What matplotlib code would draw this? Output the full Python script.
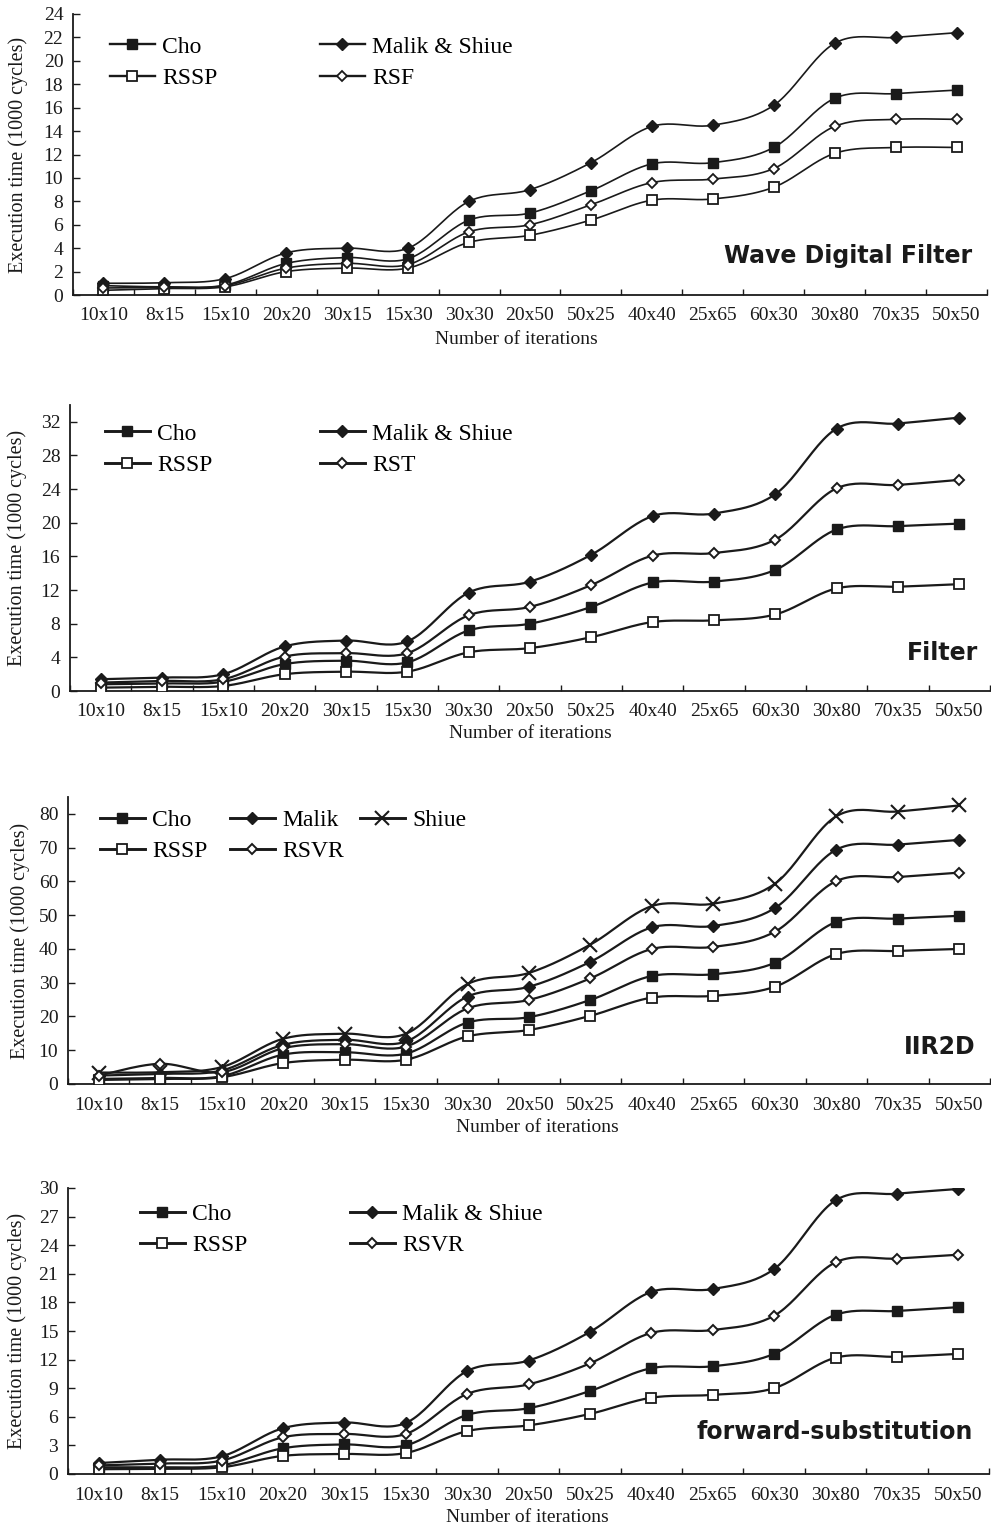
import numpy as np
import matplotlib
matplotlib.use("Agg")
import matplotlib.pyplot as plt
from matplotlib.lines import Line2D

# ---------------- data ----------------
categories = ["10x10", "8x15", "15x10", "20x20", "30x15", "15x30", "30x30", "20x50",
              "50x25", "40x40", "25x65", "60x30", "30x80", "70x35", "50x50"]

# Panel 1: Wave Digital Filter
wdf_cho = [0.8, 0.7, 0.85, 2.7, 3.2, 3.1, 6.4, 7.0, 8.9, 11.2, 11.3, 12.6, 16.8, 17.2, 17.5]
wdf_malik_shiue = [1.0, 1.05, 1.4, 3.6, 4.0, 4.0, 8.0, 9.0, 11.3, 14.4, 14.5, 16.2, 21.5, 22.0, 22.4]
wdf_rssp = [0.4, 0.55, 0.7, 2.0, 2.3, 2.3, 4.5, 5.1, 6.4, 8.1, 8.2, 9.2, 12.1, 12.6, 12.6]
wdf_rsf = [0.6, 0.65, 0.8, 2.3, 2.7, 2.6, 5.4, 6.0, 7.7, 9.6, 9.9, 10.8, 14.4, 15.0, 15.0]

# Panel 2: Filter
flt_cho = [0.8, 0.9, 1.1, 3.2, 3.6, 3.4, 7.2, 8.0, 10.0, 12.9, 13.0, 14.4, 19.2, 19.6, 19.9]
flt_malik_shiue = [1.4, 1.6, 2.0, 5.3, 6.0, 5.9, 11.7, 13.0, 16.2, 20.8, 21.1, 23.4, 31.2, 31.8, 32.5]
flt_rssp = [0.4, 0.5, 0.6, 2.0, 2.3, 2.3, 4.6, 5.1, 6.4, 8.2, 8.4, 9.1, 12.2, 12.4, 12.7]
flt_rst = [1.0, 1.2, 1.4, 4.1, 4.5, 4.5, 9.0, 10.0, 12.6, 16.1, 16.4, 18.0, 24.1, 24.5, 25.1]

# Panel 3: IIR2D
iir_cho = [1.5, 1.8, 2.3, 8.7, 9.4, 9.0, 18.2, 19.8, 24.9, 32.0, 32.5, 35.9, 48.0, 49.0, 49.8]
iir_malik = [2.5, 3.0, 4.0, 11.6, 13.1, 12.6, 25.9, 28.8, 36.2, 46.4, 46.8, 52.1, 69.4, 70.9, 72.3]
iir_shiue = [3.4, 3.5, 5.0, 13.4, 14.9, 14.9, 29.6, 32.9, 41.3, 52.7, 53.4, 59.3, 79.3, 80.7, 82.5]
iir_rssp = [1.2, 1.5, 2.0, 6.2, 7.2, 7.2, 14.1, 16.0, 20.2, 25.6, 26.1, 28.8, 38.5, 39.4, 40.0]
iir_rsvr = [2.5, 6.0, 3.5, 10.6, 11.8, 11.1, 22.4, 24.9, 31.3, 40.0, 40.6, 45.1, 60.1, 61.3, 62.6]

# Panel 4: forward-substitution
fs_cho = [0.7, 0.7, 0.9, 2.7, 3.1, 3.0, 6.2, 6.9, 8.7, 11.1, 11.3, 12.6, 16.7, 17.1, 17.5]
fs_malik_shiue = [1.15, 1.5, 1.85, 4.8, 5.4, 5.35, 10.8, 11.9, 14.9, 19.1, 19.4, 21.5, 28.7, 29.4, 29.9]
fs_rssp = [0.5, 0.55, 0.7, 1.9, 2.1, 2.2, 4.5, 5.1, 6.3, 8.0, 8.3, 9.0, 12.2, 12.3, 12.6]
fs_rsvr = [0.9, 1.1, 1.4, 3.85, 4.2, 4.2, 8.4, 9.4, 11.6, 14.8, 15.1, 16.6, 22.2, 22.6, 23.0]

# ---------------- style ----------------
W, H = 991, 1532
plt.rcParams['font.family'] = ['Liberation Serif', 'DejaVu Serif']
fig = plt.figure(figsize=(W / 100, H / 100), dpi=100)

INK = '#1a1a1a'
STY = {
    'sq_f': dict(marker='s', markersize=7.4, markerfacecolor=INK, markeredgecolor=INK, markeredgewidth=1.0),
    'sq_o': dict(marker='s', markersize=7.0, markerfacecolor='white', markeredgecolor=INK, markeredgewidth=1.3),
    'di_f': dict(marker='D', markersize=6.0, markerfacecolor=INK, markeredgecolor=INK, markeredgewidth=1.0),
    'di_o': dict(marker='D', markersize=5.6, markerfacecolor='white', markeredgecolor=INK, markeredgewidth=1.3),
    'di_os': dict(marker='D', markersize=4.6, markerfacecolor='white', markeredgecolor=INK, markeredgewidth=1.4),
    'x': dict(marker='x', markersize=9.5, markeredgecolor=INK, markeredgewidth=1.5),
}


def smooth(y, n=24):
    x = np.arange(len(y), dtype=float)
    pts = np.column_stack([x, np.asarray(y, float)])
    P = np.vstack([pts[0], pts, pts[-1]])
    out = []
    t = np.linspace(0, 1, n)[:, None]
    for i in range(1, len(P) - 2):
        p0, p1, p2, p3 = P[i - 1], P[i], P[i + 1], P[i + 2]
        c1 = p1 + (p2 - p0) / 6.0
        c2 = p2 - (p3 - p1) / 6.0
        seg = (1 - t) ** 3 * p1 + 3 * (1 - t) ** 2 * t * c1 + 3 * (1 - t) * t ** 2 * c2 + t ** 3 * p2
        out.append(seg)
    s = np.vstack(out)
    return s[:, 0], s[:, 1]


def px_axes(l, t, r, b):
    return fig.add_axes([l / W, 1 - b / H, (r - l) / W, (b - t) / H])


def panel(rect, series, ymax, ystep, ylim_top, lw, title, title_xy,
          legend_cols, leg_rows_y, ylabel_x, xlabel_xy):
    ax = px_axes(*rect)
    handles = {}
    for name, vals, mk in series:
        xs, ys = smooth(vals)
        ax.plot(xs, ys, color=INK, lw=lw, solid_capstyle='round', zorder=2)
        ax.plot(np.arange(len(vals)), vals, linestyle='none', zorder=3, **STY[mk])
        handles[name] = Line2D([], [], color=INK, lw=lw + 0.5, **STY[mk])
    ax.set_xlim(-0.5, len(categories) - 0.5)
    ax.set_ylim(0, ylim_top)
    ax.set_yticks(np.arange(0, ymax + 0.01, ystep))
    ax.set_xticks(np.arange(-0.5, len(categories), 1.0))
    ax.set_xticklabels([])
    ax.set_xticks(np.arange(len(categories)), minor=True)
    ax.set_xticklabels(categories, minor=True)
    ax.tick_params(axis='x', which='major', direction='in', length=4.5, width=1.0, color=INK)
    ax.tick_params(axis='x', which='minor', length=0, pad=9, labelsize=14, labelcolor=INK)
    ax.tick_params(axis='y', direction='in', length=5, width=1.0, pad=7, labelsize=14,
                   labelcolor=INK, color=INK)
    for s in ('top', 'right'):
        ax.spines[s].set_visible(False)
    for s in ('left', 'bottom'):
        ax.spines[s].set_linewidth(1.3)
        ax.spines[s].set_color(INK)
    # axis labels (placed in pixel positions)
    cy = (rect[1] + rect[3]) / 2
    fig.text(ylabel_x / W, 1 - cy / H, 'Execution time (1000 cycles)', rotation=90,
             ha='center', va='center', fontsize=14.5, color=INK)
    fig.text(xlabel_xy[0] / W, 1 - xlabel_xy[1] / H, 'Number of iterations',
             ha='center', va='center', fontsize=14, color=INK)
    fig.text(title_xy[0] / W, 1 - title_xy[1] / H, title, ha='right', va='center',
             fontsize=17, fontweight='bold', family='DejaVu Sans', color=INK)
    # legend columns
    legs = []
    for col_x, names in legend_cols:
        hs = [handles[n] for n in names]
        if len(names) == 2:
            ymid = (leg_rows_y[0] + leg_rows_y[1]) / 2 + 2
        else:
            ymid = leg_rows_y[0] + 2
        lg = ax.legend(hs, names, loc='center left',
                       bbox_to_anchor=(col_x / W, 1 - ymid / H), bbox_transform=fig.transFigure,
                       frameon=False, borderpad=0, borderaxespad=0, handlelength=1.9,
                       handletextpad=0.3, labelspacing=0.42, fontsize=17, numpoints=1)
        legs.append(lg)
    for lg in legs[:-1]:
        ax.add_artist(lg)
    return ax


panel((73, 14, 987, 295),
      [("Cho", wdf_cho, 'sq_f'), ("Malik & Shiue", wdf_malik_shiue, 'di_f'),
       ("RSSP", wdf_rssp, 'sq_o'), ("RSF", wdf_rsf, 'di_o')],
      24, 2, 24, 1.2, 'Wave Digital Filter', (972, 256),
      [(110, ["Cho", "RSSP"]), (320, ["Malik & Shiue", "RSF"])], (45, 76),
      18, (516, 340))

panel((70, 405, 990, 691),
      [("Cho", flt_cho, 'sq_f'), ("Malik & Shiue", flt_malik_shiue, 'di_f'),
       ("RSSP", flt_rssp, 'sq_o'), ("RST", flt_rst, 'di_os')],
      32, 4, 34, 1.6, 'Filter', (978, 653),
      [(105, ["Cho", "RSSP"]), (320, ["Malik & Shiue", "RST"])], (432, 463),
      17, (530, 733))

panel((68, 797, 990, 1084),
      [("Cho", iir_cho, 'sq_f'), ("Malik", iir_malik, 'di_f'), ("Shiue", iir_shiue, 'x'),
       ("RSSP", iir_rssp, 'sq_o'), ("RSVR", iir_rsvr, 'di_os')],
      80, 10, 85, 1.6, 'IIR2D', (975, 1047),
      [(100, ["Cho", "RSSP"]), (230, ["Malik", "RSVR"]), (360, ["Shiue"])], (818, 850),
      20, (537, 1128))

panel((68, 1188, 989, 1474),
      [("Cho", fs_cho, 'sq_f'), ("Malik & Shiue", fs_malik_shiue, 'di_f'),
       ("RSSP", fs_rssp, 'sq_o'), ("RSVR", fs_rsvr, 'di_os')],
      30, 3, 30, 1.6, 'forward-substitution', (973, 1432),
      [(140, ["Cho", "RSSP"]), (350, ["Malik & Shiue", "RSVR"])], (1212, 1244),
      17, (527, 1518))

fig.savefig('out.png', dpi=100)
